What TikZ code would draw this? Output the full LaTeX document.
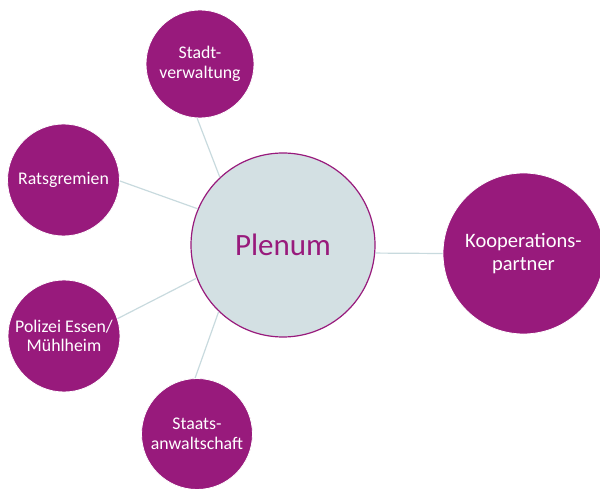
\documentclass[tikz,border=0pt]{standalone}
\usepackage{fontspec}
\setmainfont{Carlito}
\definecolor{plum}{RGB}{152,26,124}
\definecolor{mist}{RGB}{211,224,227}
\definecolor{linkgray}{RGB}{200,218,222}
\begin{document}
\begin{tikzpicture}[x=1pt,y=-1pt,
  member/.style={circle,fill=plum,draw=white,line width=0.8pt,inner sep=0pt,
    align=center,text=white,font=\fontsize{17.8}{19.5}\selectfont},
  hub/.style={circle,fill=mist,draw=plum,line width=1.2pt,inner sep=0pt,
    text=plum,font=\fontsize{31}{36}\selectfont},
  link/.style={draw=linkgray,line width=1.2pt}]
\useasboundingbox (0,0) rectangle (600,489);
% central body
\node[hub,minimum size=184pt] (plenum) at (283,245) {Plenum};
% satellites
\node[member,minimum size=108pt] (stadt) at (200,64) {Stadt-\\verwaltung};
\node[member,minimum size=112pt] (rat) at (63.5,180) {Ratsgremien};
\node[member,minimum size=112pt] (polizei) at (64,336) {Polizei Essen/\\Mühlheim};
\node[member,minimum size=111pt] (staat) at (197,434) {Staats-\\anwaltschaft};
\node[member,minimum size=161pt,font=\fontsize{20.5}{23}\selectfont] (koop) at (523.5,253.5) {Kooperations-\\partner};
% connectors
\draw[link] (stadt.-93) -- (plenum.133);
\draw[link] (rat.-1) -- (plenum.157);
\draw[link] (polizei.18) -- (plenum.201);
\draw[link] (staat.92) -- (plenum.226);
\draw[link] (plenum.-5.6) -- (koop.180);
\end{tikzpicture}
\end{document}
